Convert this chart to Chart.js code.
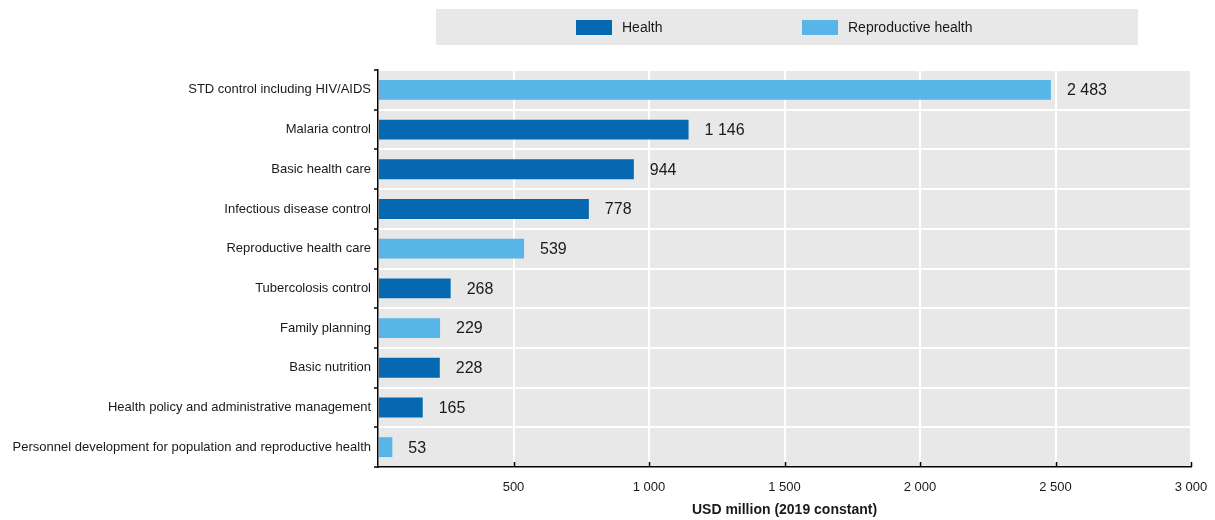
<!DOCTYPE html>
<html lang="en">
<head>
    <meta charset="UTF-8">
    <title>Health aid by purpose</title>
    <script src="https://cdn.jsdelivr.net/npm/chart.js"></script>
    <style>
        html, body { margin: 0; padding: 0; background: #fff; }
        #wrap { width: 1215px; height: 520px; position: relative; }
    </style>
</head>
<body>
    <div id="wrap"><canvas id="healthChart"></canvas></div>

    <script>
        // Data
        const categories = [
            'STD control including HIV/AIDS',
            'Malaria control',
            'Basic health care',
            'Infectious disease control',
            'Reproductive health care',
            'Tubercolosis control',
            'Family planning',
            'Basic nutrition',
            'Health policy and administrative management',
            'Personnel development for population and reproductive health'
        ];
        const healthValues = [null, 1146, 944, 778, null, 268, null, 228, 165, null];
        const reproductiveValues = [2483, null, null, null, 539, null, 229, null, null, 53];
        const xTicks = [0, 500, 1000, 1500, 2000, 2500, 3000];
        const seriesNames = ['Health', 'Reproductive health'];
        const axisTitle = 'USD million (2019 constant)';

        const FONT = "'Liberation Sans', Arial, sans-serif";
        const COLORS = ['#0568b1', '#57b5e7'];

        function fmt(v) {
            return String(v).replace(/\B(?=(\d{3})+(?!\d))/g, ' ');
        }

        // grey plot background
        const plotBackground = {
            id: 'plotBackground',
            beforeDraw(chart) {
                const { ctx, chartArea: a } = chart;
                ctx.save();
                ctx.fillStyle = '#e8e8e8';
                ctx.fillRect(a.left, a.top, a.right - a.left, a.bottom - a.top);
                ctx.restore();
            }
        };

        // small black ticks pointing up into the plot on the x axis
        const innerTicks = {
            id: 'innerTicks',
            afterDraw(chart) {
                const { ctx, chartArea: a } = chart;
                const xs = chart.scales.x;
                ctx.save();
                ctx.strokeStyle = '#000';
                ctx.lineWidth = 1.5;
                xTicks.forEach(v => {
                    if (v === 0) return;
                    const px = Math.round(xs.getPixelForValue(v)) + 0.5;
                    ctx.beginPath();
                    ctx.moveTo(px, a.bottom);
                    ctx.lineTo(px, a.bottom - 5);
                    ctx.stroke();
                });
                ctx.restore();
            }
        };

        // value labels to the right of each bar
        const valueLabels = {
            id: 'valueLabels',
            afterDatasetsDraw(chart) {
                const ctx = chart.ctx;
                ctx.save();
                ctx.font = '16px ' + FONT;
                ctx.fillStyle = '#1a1a1a';
                ctx.textAlign = 'left';
                ctx.textBaseline = 'middle';
                chart.data.datasets.forEach((ds, i) => {
                    chart.getDatasetMeta(i).data.forEach((bar, j) => {
                        const v = ds.data[j];
                        if (v === null) return;
                        ctx.fillText(fmt(v), bar.x + 16, bar.y + 1);
                    });
                });
                ctx.restore();
            }
        };

        // legend in a grey band above the plot
        const bandLegend = {
            id: 'bandLegend',
            afterDraw(chart) {
                const { ctx, chartArea: a } = chart;
                const left = a.left + 58, right = a.right - 53;
                ctx.save();
                ctx.fillStyle = '#e8e8e8';
                ctx.fillRect(left, 9, right - left, 36);
                ctx.font = '14px ' + FONT;
                ctx.textBaseline = 'middle';
                const offsets = [140, 366];
                chart.data.datasets.forEach((ds, i) => {
                    const x = left + offsets[i];
                    ctx.fillStyle = ds.backgroundColor;
                    ctx.fillRect(x, 20, 36, 15);
                    ctx.fillStyle = '#1a1a1a';
                    ctx.fillText(ds.label, x + 46, 28);
                });
                ctx.restore();
            }
        };

        const config = {
            type: 'bar',
            data: {
                labels: categories,
                datasets: [
                    {
                        label: seriesNames[0],
                        data: healthValues,
                        backgroundColor: COLORS[0],
                        categoryPercentage: 1,
                        barPercentage: 0.5
                    },
                    {
                        label: seriesNames[1],
                        data: reproductiveValues,
                        backgroundColor: COLORS[1],
                        categoryPercentage: 1,
                        barPercentage: 0.5
                    }
                ]
            },
            options: {
                indexAxis: 'y',
                responsive: true,
                maintainAspectRatio: false,
                animation: false,
                grouped: false,
                layout: { padding: { top: 70, right: 24, left: 0, bottom: 0 } },
                plugins: {
                    legend: { display: false },
                    tooltip: { enabled: false }
                },
                scales: {
                    x: {
                        min: 0,
                        max: 3000,
                        afterBuildTicks(scale) {
                            scale.ticks = xTicks.map(v => ({ value: v }));
                        },
                        afterFit(scale) { scale.height = 53; },
                        grid: {
                            color: '#ffffff',
                            lineWidth: 2,
                            tickColor: 'rgba(0,0,0,0)',
                            tickLength: 10
                        },
                        border: { color: '#000000', width: 1.5 },
                        ticks: {
                            padding: 3,
                            color: '#1a1a1a',
                            font: { family: FONT, size: 13 },
                            callback: v => (v === 0 ? '' : fmt(v))
                        },
                        title: {
                            display: true,
                            text: axisTitle,
                            color: '#1a1a1a',
                            font: { family: FONT, size: 14, weight: 'bold' },
                            padding: { top: 0, bottom: 1 }
                        }
                    },
                    y: {
                        afterFit(scale) { scale.width = 378; },
                        grid: {
                            offset: true,
                            color: '#ffffff',
                            lineWidth: 2,
                            tickColor: '#000000',
                            tickLength: 4,
                            tickWidth: 1.5
                        },
                        border: { color: '#000000', width: 1.5 },
                        ticks: {
                            padding: 3,
                            color: '#1a1a1a',
                            font: { family: FONT, size: 13 }
                        }
                    }
                }
            },
            plugins: [plotBackground, valueLabels, innerTicks, bandLegend]
        };

        const healthChart = new Chart(document.getElementById('healthChart'), config);
    </script>
</body>
</html>
